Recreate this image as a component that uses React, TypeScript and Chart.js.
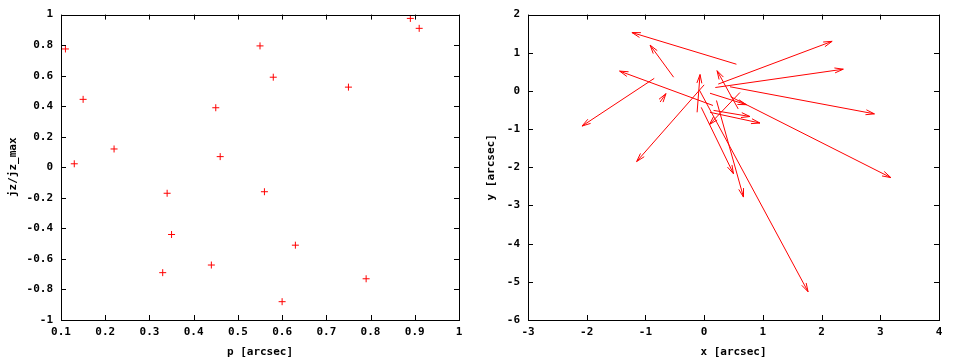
import React, { useEffect, useRef } from "react";
import { Chart, registerables } from "chart.js";

Chart.register(...registerables);

// ---- Left panel data: p [arcsec] vs jz/jz_max ----
const pValues = [0.11, 0.13, 0.15, 0.22, 0.45, 0.46, 0.55, 0.58, 0.75, 0.89, 0.91, 0.34, 0.56, 0.35, 0.63, 0.33, 0.44, 0.79, 0.6];
const jzValues = [0.775, 0.023, 0.445, 0.12, 0.39, 0.07, 0.795, 0.59, 0.525, 0.975, 0.91, -0.17, -0.16, -0.44, -0.51, -0.69, -0.64, -0.73, -0.88];

const leftXTicks = [0.1, 0.2, 0.3, 0.4, 0.5, 0.6, 0.7, 0.8, 0.9, 1];
const leftYTicks = [-1, -0.8, -0.6, -0.4, -0.2, 0, 0.2, 0.4, 0.6, 0.8, 1];

// ---- Right panel data: arrows from (x0,y0) to (x1,y1) ----
const arrowX0 = [0.55, -0.52, 0.15, -0.85, -0.75, 0.0, -0.12, 0.24, 0.19, 0.44, 0.45, -0.08, -0.05, 0.21, 0.58, 0.61, 0.1, 0.16, 0.1];
const arrowY0 = [0.7, 0.36, -0.38, 0.33, -0.29, 0.16, -0.56, 0.18, 0.09, 0.11, -0.15, 0.02, -0.43, -0.25, -0.47, -0.04, -0.06, -0.51, -0.56];
const arrowX1 = [-1.23, -0.92, -1.44, -2.08, -0.65, -1.15, -0.07, 2.18, 2.37, 2.9, 3.18, 1.77, 0.5, 0.67, 0.22, 0.09, 0.72, 0.78, 0.95];
const arrowY1 = [1.53, 1.2, 0.52, -0.92, -0.07, -1.85, 0.43, 1.3, 0.57, -0.6, -2.27, -5.26, -2.17, -2.78, 0.53, -0.88, -0.36, -0.67, -0.84];

const rightXTicks = [-3, -2, -1, 0, 1, 2, 3, 4];
const rightYTicks = [-6, -5, -4, -3, -2, -1, 0, 1, 2];

const RED = "#ff0000";
const FONT = { family: "'DejaVu Sans Mono', monospace", size: 11, weight: "bold" as const };

const fmt = (v: number) => String(Math.round(v * 10) / 10);

const framePlugin = {
  id: "frame",
  afterDraw(chart: any) {
    const { ctx, chartArea: a, scales } = chart;
    const L = 5;
    ctx.save();
    ctx.strokeStyle = "#000";
    ctx.lineWidth = 1;
    ctx.beginPath();
    scales.x.ticks.forEach((t: any) => {
      const px = Math.round(scales.x.getPixelForValue(t.value)) + 0.5;
      ctx.moveTo(px, a.bottom);
      ctx.lineTo(px, a.bottom - L);
      ctx.moveTo(px, a.top);
      ctx.lineTo(px, a.top + L);
    });
    scales.y.ticks.forEach((t: any) => {
      const py = Math.round(scales.y.getPixelForValue(t.value)) + 0.5;
      ctx.moveTo(a.left, py);
      ctx.lineTo(a.left + L, py);
      ctx.moveTo(a.right, py);
      ctx.lineTo(a.right - L, py);
    });
    ctx.stroke();
    ctx.strokeRect(Math.round(a.left) + 0.5, Math.round(a.top) + 0.5, Math.round(a.right - a.left), Math.round(a.bottom - a.top));
    ctx.restore();
  },
};

const arrowHeadPlugin = {
  id: "arrowHeads",
  afterDatasetsDraw(chart: any) {
    const { ctx, scales } = chart;
    const len = 9;
    const ang = (16 * Math.PI) / 180;
    ctx.save();
    ctx.strokeStyle = RED;
    ctx.lineWidth = 1;
    for (let i = 0; i < arrowX0.length; i++) {
      const x0 = scales.x.getPixelForValue(arrowX0[i]);
      const y0 = scales.y.getPixelForValue(arrowY0[i]);
      const x1 = scales.x.getPixelForValue(arrowX1[i]);
      const y1 = scales.y.getPixelForValue(arrowY1[i]);
      const th = Math.atan2(y1 - y0, x1 - x0);
      ctx.beginPath();
      ctx.moveTo(x1 - len * Math.cos(th - ang), y1 - len * Math.sin(th - ang));
      ctx.lineTo(x1, y1);
      ctx.lineTo(x1 - len * Math.cos(th + ang), y1 - len * Math.sin(th + ang));
      ctx.stroke();
    }
    ctx.restore();
  },
};

function axis(
  min: number,
  max: number,
  ticks: number[],
  title: string,
  horizontal: boolean,
  size: number,
  titlePad: number
) {
  return {
    type: "linear" as const,
    min,
    max,
    afterBuildTicks: (s: any) => {
      s.ticks = ticks.map((v) => ({ value: v }));
    },
    afterFit: (s: any) => {
      if (horizontal) s.height = size;
      else s.width = size;
    },
    grid: { display: false, drawTicks: false },
    border: { display: false },
    ticks: {
      padding: horizontal ? 6 : 8,
      color: "#000",
      font: FONT,
      autoSkip: false,
      maxRotation: 0,
      callback: (v: any) => fmt(Number(v)),
    },
    title: {
      display: true,
      text: title,
      color: "#000",
      font: FONT,
      padding: horizontal ? { top: 0, bottom: titlePad } : { top: titlePad, bottom: 0 },
    },
  };
}

function Panel({ kind }: { kind: "left" | "right" }) {
  const ref = useRef<HTMLCanvasElement | null>(null);
  useEffect(() => {
    if (!ref.current) return;
    let config: any;
    if (kind === "left") {
      config = {
        type: "scatter",
        data: {
          datasets: [
            {
              data: pValues.map((p, i) => ({ x: p, y: jzValues[i] })),
              pointStyle: "cross",
              pointRadius: 3.5,
              pointHoverRadius: 3.5,
              borderColor: RED,
              backgroundColor: RED,
              borderWidth: 1,
            },
          ],
        },
        options: {
          animation: false,
          responsive: false,
          devicePixelRatio: 1,
          events: [],
          layout: { padding: { left: 0, right: 21, top: 14, bottom: 0 } },
          plugins: { legend: { display: false }, tooltip: { enabled: false } },
          scales: {
            x: axis(0.1, 1, leftXTicks, "p [arcsec]", true, 40, 1),
            y: axis(-1, 1, leftYTicks, "jz/jz_max", false, 61, 7),
          },
        },
        plugins: [framePlugin],
      };
    } else {
      config = {
        type: "scatter",
        data: {
          datasets: arrowX0.map((x0, i) => ({
            data: [
              { x: x0, y: arrowY0[i] },
              { x: arrowX1[i], y: arrowY1[i] },
            ],
            showLine: true,
            borderColor: RED,
            borderWidth: 1,
            pointRadius: 0,
            pointHoverRadius: 0,
            fill: false,
          })),
        },
        options: {
          animation: false,
          responsive: false,
          devicePixelRatio: 1,
          events: [],
          layout: { padding: { left: 0, right: 21, top: 14, bottom: 0 } },
          plugins: { legend: { display: false }, tooltip: { enabled: false } },
          scales: {
            x: axis(-3, 4, rightXTicks, "x [arcsec]", true, 40, 1),
            y: axis(-6, 2, rightYTicks, "y [arcsec]", false, 48, 5),
          },
        },
        plugins: [framePlugin, arrowHeadPlugin],
      };
    }
    const chart = new Chart(ref.current, config);
    return () => chart.destroy();
  }, [kind]);
  return <canvas ref={ref} width={480} height={360} style={{ display: "block", width: 480, height: 360 }} />;
}

export default function App() {
  return (
    <div
      style={{
        position: "absolute",
        left: 0,
        top: 0,
        width: 960,
        height: 360,
        background: "#fff",
        display: "flex",
      }}
    >
      <Panel kind="left" />
      <Panel kind="right" />
    </div>
  );
}
